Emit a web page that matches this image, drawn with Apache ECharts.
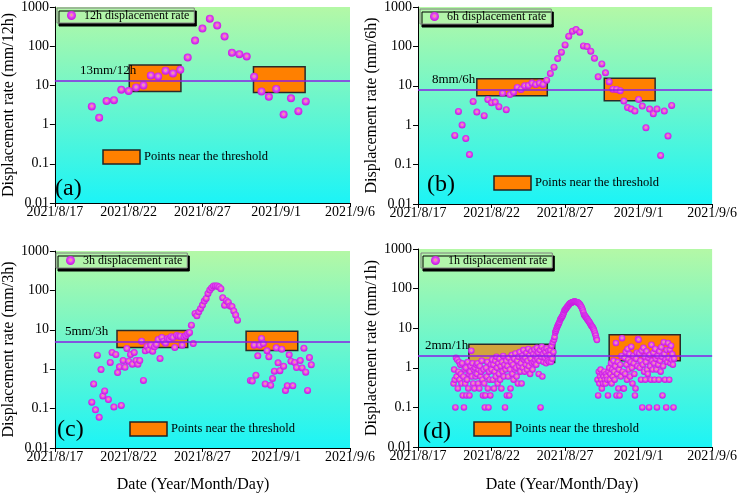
<!DOCTYPE html>
<html>
<head>
<meta charset="utf-8">
<script src="https://cdn.jsdelivr.net/npm/echarts@6/dist/echarts.min.js"></script>
<style>
  html, body { margin: 0; padding: 0; background: #fff; }
  #chart { width: 740px; height: 493px; }
</style>
</head>
<body>
<div id="chart"></div>
<script>
// ---- data ----
// displacement rates, regular sampling starting at the given time
const start12h = '2021-08-19 12:00'
const rate12h = [2.9, 1.5, 4.0, 4.2, 7.8, 7.2, 8.9, 10, 17.9, 16.9, 23.6, 20.2, 25, 51.5, 139,
  281, 505, 335, 176, 67.7, 62.6, 54.6, 16.6, 7.0, 5.1, 8.1, 1.8, 4.7, 2.2, 3.9]

const start6h = '2021-08-19 12:00'
const rate6h = [0.55, 2.24, 1.01, 0.46, 0.18, 4.0, 2.15, null, 1.74, 4.5,
  3.71, 3.86, 2.94, 6.5, 2.47, 6.0, 6.9, 9.1, 8.1, 10,
  10.2, 11.7, 10.8, 11.7, 10.8, 13.9, 20.5, 29.7, 49, 71,
  109, 181, 243, 267, 229, 103, 99, 75, 50, 16.9,
  36, 21.3, 12.6, 8.2, 8.1, 7.5, 4.1, 2.8, 2.56, 2.28,
  4.5, 3.05, 0.86, 2.56, 1.95, 2.56, 0.17, 2.28, 0.53, 3.18]

const start3h = '2021-08-19 12:00'
const rate3h = [0.145, 0.42, 0.093, 2.27, 0.06, 0.98, 0.21, 0.28, null, 0.17,
  1.48, 2.65, 0.11, 2.36, 0.82, 1.15, 0.12, 1.66, 1.12, 3.35,
  1.6, 2.36, 1.34, 2.65, 1.66, 1.34, 1.66, 5.15, 0.52, 2.93,
  3.77, 3.1, 4.07, 2.87, 3.7, 4.24, 5.68, 1.87, 6.38, 5.15,
  4.58, 6.03, 5.8, 6.64, 6.38, 3.56, 7.17, 6.9, 6.9, 4.07,
  6.64, 7.17, 7.9, 8.55, 13.1, 4.5, 26, 22.7, 28.7, 34.9,
  42.4, 53.6, 62.7, 84, 102, 117, 129, 130, 129, 122,
  110, 65, 42, 55, 50, 40, 39, 30, 23.6, 17.6,
  null, null, null, null, null, null, 0.52, 0.5, 4.07, 0.7,
  2.18, 4.07, 6.03, 4.5, 0.42, 2.93, 2.06, 0.39, 0.58, 0.89,
  3.48, 1.45, 0.92, 3.22, 1.19, 0.29, 0.38, 2.31, 1.6, 0.38,
  1.48, 1.1, null, 1.66, 1.08, 3.42, 0.84, 0.29, 1.98, 1.29]

const start1h = '2021-08-19 10:00'
const rate1h = [
  0.4, 0.9, 0.5, 0.1, 1.8, 0.6, 1.6, 0.3, 0.8, 1.4, 0.5, 1.2, 0.7, 0.4,                                        // 8/19 10h-23h
  1.3, 0.2, 0.6, 0.1, 0.9, 0.4, 1.0, 0.2, 0.5, 1.4, 0.3, 0.7, 0.2, 0.8, 1.1, 2.7, 0.6, 1.3, 0.4, 0.9, 0.3, 1.0, 0.6, 1.2, // 8/20
  0.7, 1.3, 0.4, 0.9, 0.3, 1.1, 0.6, 0.8, 1.5, 0.5, 0.2, 0.9, 0.4, 0.1, 0.2, 1.0, 0.6, 1.4, 0.3, 0.1, 0.8, 0.5, 0.2, 1.2, // 8/21
  0.9, 1.6, 0.5, 1.2, 0.3, 0.8, 1.5, 0.6, 1.9, 1.0, 0.4, 1.3, 0.7, 1.7, 0.5, 1.1, 0.3, 1.4, 0.8, 2.0, 0.6, 1.2, 0.1, 0.9, // 8/22
  1.5, 0.2, 1.1, 0.6, 1.8, 0.2, 0.9, 0.3, 1.4, 2.1, 0.7, 1.2, 0.5, 1.7, 0.9, 2.3, 1.0, 0.6, 1.5, 0.4, 1.9, 1.1, 2.5, 0.8, // 8/23
  1.3, 0.4, 2.0, 1.0, 2.8, 1.6, 0.8, 1.8, 1.2, 2.4, 0.9, 1.5, 3.0, 1.1, 2.1, 0.7, 1.7, 2.6, 1.3, 0.9, 2.2, 1.4, 2.9, 1.6, // 8/24
  2.0, 1.2, 3.2, 1.7, 2.4, 0.7, 1.5, 2.8, 0.1, 1.9, 3.4, 0.6, 2.2, 1.4, 2.9, 1.8, 2.5, 1.3, 3.1, 2.0, 1.5, 2.7, 1.4, 2.1, // 8/25
  2.8, 1.4, 3.6, 1.7, 4.4, 2.5, 5.1, 6.0, 7.8, 8.6, 9.5, 10.6, 11.5, 12.4, 13.4, 14.5, 16.3, 17.2, 18.3, 19.4, 20.5, 22.5, 25, 28, // 8/26
  29, 30.5, 32, 34, 35.5, 37, 38.5, 41, 42, 43, 44, 44.5, 45.5, 46, 46.5, 47, 47, 46.5, 46, 45.5, 45, 44.5, 43, 41.5, // 8/27
  40, 38, 36, 34, 31, 28, 25, 22, 21, 20, 19, 18, 17, 16.3, 15.5, 14.7, 14, 13.2, 12.2, 11.5, 11, 10.6, 9.8, 9.1, // 8/28
  8.3, 7.4, 6.5, 5.6, 5.0, 0.5, 0.2, 0.8, 0.4, 0.6, 0.9, 0.5, 0.3, 0.7, 0.4, 0.6, 0.8, 0.5, 0.4, 0.7, 0.6, 0.5, 0.2, 0.8, // 8/29
  1.0, 0.5, 0.7, 1.3, 0.4, 0.9, 0.6, 1.5, 0.8, 0.5, 1.1, 4.2, 0.2, 0.7, 1.4, 0.3, 0.9, 0.2, 1.2, 0.6, 2.0, 5.6, 0.8, 0.3, // 8/30
  0.3, 1.8, 0.7, 2.5, 1.2, 0.5, 3.0, 1.6, 0.9, 2.2, 0.6, 1.4, 3.4, 1.0, 0.4, 2.0, 1.3, 0.7, 0.2, 0.3, 1.7, 2.4, 1.1, 5.3, // 8/31
  5.1, 2.3, 1.0, 1.5, 0.5, 2.7, 0.1, 1.2, 3.2, 0.8, 1.9, 0.5, 1.4, 2.6, 0.9, 0.7, 1.8, 0.1, 2.1, 1.1, 0.5, 3.8, 1.5, 0.9, // 9/1
  2.4, 1.3, 0.5, 3.0, 1.7, 0.9, 0.1, 2.0, 1.2, 0.5, 2.6, 1.5, 0.8, 3.3, 1.9, 0.2, 1.1, 4.4, 2.2, 0.5, 1.6, 0.1, 2.8, 1.4, // 9/2
  4.2, 1.8, 0.5, 2.9, 1.3, 3.6, 1.6, 2.2, 1.2, 0.1, 1.7                                                      // 9/3 0h-10h
]

// boxes "points near the threshold": [from, to, low, high]
const boxes12h = [['2021-08-22 01:00', '2021-08-25 13:00', 7.0, 33], ['2021-08-30 11:00', '2021-09-02 23:00', 6.6, 30]]
const boxes6h = [['2021-08-21 00:00', '2021-08-25 19:00', 5.6, 15], ['2021-08-29 16:00', '2021-09-02 03:00', 4.2, 15.6]]
const boxes3h = [['2021-08-21 05:00', '2021-08-26 00:00', 3.56, 9.6], ['2021-08-29 23:00', '2021-09-02 11:00', 2.98, 9.25]]
const boxes1h = [['2021-08-20 11:00', '2021-08-26 07:00', 1.36, 3.96], ['2021-08-30 00:00', '2021-09-03 20:00', 1.5, 6.8]]

const thresholds = [13, 8, 5, 2]
const thresholdLabels = ['13mm/12h', '8mm/6h', '5mm/3h', '2mm/1h']
const seriesNames = ['12h displacement rate', '6h displacement rate', '3h displacement rate', '1h displacement rate']
const yNames = ['Displacement rate (mm/12h)', 'Displacement rate (mm/6h)', 'Displacement rate (mm/3h)', 'Displacement rate (mm/1h)']
const letters = ['(a)', '(b)', '(c)', '(d)']
const xStart = '2021-08-17 00:00'
const xSpanDays = 20
const xTickDays = 5

// ---- layout ----
const serif = 'Liberation Serif, Times New Roman, serif'
const panels = [
  { rate: rate12h, start: start12h, step: 12, boxes: boxes12h, size: 8,
    grid: { left: 53, top: 7, width: 297, height: 196 }, legend: [57, 8], letter: [55, 189], key: [103, 150], lblDist: [25, 4],
    boxFill: ['#ff8000', '#ff8000'] },
  { rate: rate6h, start: start6h, step: 6, boxes: boxes6h, size: 7,
    grid: { left: 418, top: 7, width: 297, height: 197 }, legend: [420, 9], letter: [427, 185], key: [494, 176], lblDist: [14, 4],
    boxFill: ['#ff8000', '#ff8000'] },
  { rate: rate3h, start: start3h, step: 3, boxes: boxes3h, size: 7,
    grid: { left: 53, top: 251, width: 297, height: 197 }, legend: [56, 253], letter: [57, 430], key: [130, 422], lblDist: [10, 4],
    boxFill: ['#ff8000', '#ff8000'] },
  { rate: rate1h, start: start1h, step: 1, boxes: boxes1h, size: 6.5,
    grid: { left: 418, top: 249, width: 297, height: 198 }, legend: [421, 253], letter: [423, 432], key: [474, 422], lblDist: [7, 4],
    boxFill: ['rgba(255,128,0,0.7)', '#ff8000'] }
]

const base = new Date(xStart.replace(' ', 'T')).getTime()
function dayOf(t) {
  return (new Date(t.replace(' ', 'T')).getTime() - base) / 864e5
}
function points(start, stepH, vals) {
  const t0 = dayOf(start)
  const out = []
  vals.forEach((v, i) => { if (v != null) out.push([t0 + i * stepH / 24, v]) })
  return out
}
function dateLabel(d) {
  const dt = new Date(base + Math.round(d) * 864e5)
  return dt.getFullYear() + '/' + (dt.getMonth() + 1) + '/' + dt.getDate()
}

const bg = new echarts.graphic.LinearGradient(0, 0, 0, 1, [
  { offset: 0, color: '#b4f8a6' },
  { offset: 1, color: '#1cf4f6' }
])
const dot = new echarts.graphic.RadialGradient(0.5, 0.45, 0.5, [
  { offset: 0, color: '#f2c83a' },
  { offset: 0.28, color: '#ec7ad8' },
  { offset: 0.6, color: '#e03ef0' },
  { offset: 1, color: '#c81ee0' }
])

const grids = [], xAxes = [], yAxes = [], series = [], legends = [], graphics = []

panels.forEach((p, i) => {
  grids.push(Object.assign({ show: true, backgroundColor: bg, borderWidth: 0 }, p.grid))
  xAxes.push({
    type: 'value', gridIndex: i, min: 0, max: xSpanDays, interval: xTickDays,
    axisLine: { show: true, onZero: false, lineStyle: { color: '#000', width: 1 } },
    axisTick: { show: true, inside: false, length: 4, lineStyle: { color: '#000' } },
    axisLabel: { color: '#000', fontFamily: serif, fontSize: 14, margin: 2, formatter: dateLabel, showMaxLabel: true, showMinLabel: true },
    splitLine: { show: false }
  })
  yAxes.push({
    type: 'log', logBase: 10, gridIndex: i, min: 0.01, max: 1000, splitNumber: 5,
    name: yNames[i], nameLocation: 'middle', nameGap: 37,
    nameTextStyle: { color: '#000', fontFamily: serif, fontSize: 16 },
    axisLine: { show: true, lineStyle: { color: '#000', width: 1 } },
    axisTick: { show: true, inside: false, length: 5, lineStyle: { color: '#000' } },
    axisLabel: { color: '#000', fontFamily: serif, fontSize: 14, margin: 6, formatter: v => String(+(+v).toPrecision(2)) },
    splitLine: { show: false }
  })
  // boxes under everything else
  series.push({
    type: 'scatter', name: 'box' + i, xAxisIndex: i, yAxisIndex: i, data: [], z: 1, silent: true,
    markArea: {
      silent: true,
      data: p.boxes.map((b, k) => [
        { xAxis: dayOf(b[0]), yAxis: b[2], itemStyle: { color: p.boxFill[k], borderColor: '#2a2a2a', borderWidth: 1.5 } },
        { xAxis: dayOf(b[1]), yAxis: b[3] }
      ])
    }
  })
  // threshold line
  series.push({
    type: 'scatter', name: 'thr' + i, xAxisIndex: i, yAxisIndex: i, data: [], z: 2, silent: true,
    markLine: {
      silent: true, symbol: ['none', 'none'], animation: false,
      lineStyle: { color: '#8a1ee6', width: 1.5, type: 'solid' },
      label: {
        show: true, position: 'insideStartTop', formatter: thresholdLabels[i], distance: p.lblDist,
        color: '#000', fontFamily: serif, fontSize: 13
      },
      emphasis: { disabled: true },
      data: [{ yAxis: thresholds[i] }]
    }
  })
  series.push({
    type: 'scatter', name: seriesNames[i], xAxisIndex: i, yAxisIndex: i, z: 3,
    symbol: 'circle', symbolSize: p.size,
    itemStyle: { color: dot, opacity: 1 },
    data: points(p.start, p.step, p.rate)
  })
  legends.push({
    data: [seriesNames[i]], left: p.legend[0], top: p.legend[1], orient: 'horizontal',
    icon: 'circle', itemWidth: 15, itemHeight: 9, itemGap: 0, padding: [1, 5, 1, 10],
    selectedMode: false,
    backgroundColor: '#b2f5aa', borderColor: '#808080', borderWidth: 1,
    shadowColor: '#000', shadowBlur: 0, shadowOffsetX: 2, shadowOffsetY: 3,
    textStyle: { color: '#000', fontFamily: serif, fontSize: 12, lineHeight: 13 }
  })
  graphics.push({
    type: 'text', x: p.letter[0], y: p.letter[1],
    style: { text: letters[i], font: '24px ' + serif, fill: '#000', verticalAlign: 'middle' }
  })
  graphics.push({
    type: 'rect', shape: { x: p.key[0], y: p.key[1], width: 37, height: 14 },
    style: { fill: '#ff8000', stroke: '#222', lineWidth: 1.5 }
  })
  graphics.push({
    type: 'text', x: p.key[0] + 41, y: p.key[1] + 7,
    style: { text: 'Points near the threshold', font: '12.5px ' + serif, fill: '#000', verticalAlign: 'middle' }
  })
})

graphics.push({ type: 'text', x: 193, y: 485, style: { text: 'Date (Year/Month/Day)', font: '16px ' + serif, fill: '#000', align: 'center', verticalAlign: 'middle' } })
graphics.push({ type: 'text', x: 562, y: 485, style: { text: 'Date (Year/Month/Day)', font: '16px ' + serif, fill: '#000', align: 'center', verticalAlign: 'middle' } })

const chart = echarts.init(document.getElementById('chart'), null, { renderer: 'canvas' })
chart.setOption({
  animation: false,
  backgroundColor: '#fff',
  textStyle: { fontFamily: serif },
  grid: grids,
  xAxis: xAxes,
  yAxis: yAxes,
  legend: legends,
  series: series,
  graphic: graphics
})
</script>
</body>
</html>
